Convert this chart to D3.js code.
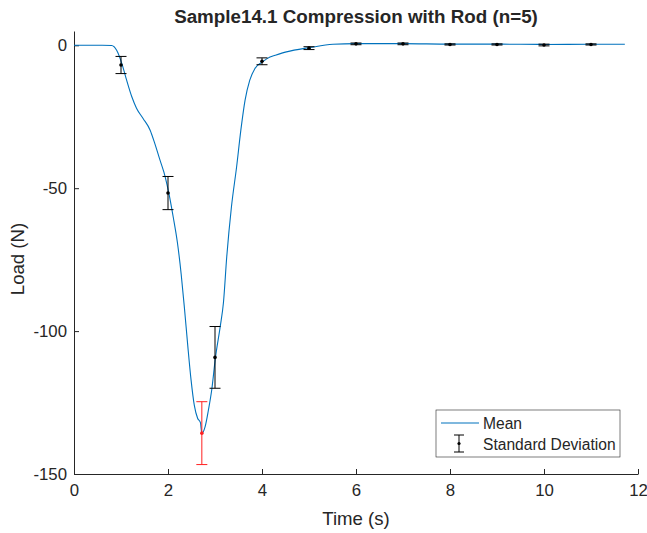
<!DOCTYPE html>
<html>
<head>
<meta charset="utf-8">
<script src="https://cdn.jsdelivr.net/npm/d3@7"></script>
<style>
  body { margin: 0; background: #fff; }
  text { font-family: "Liberation Sans", Arial, sans-serif; fill: #262626; }
</style>
</head>
<body>
<script>
// mean load curve (time in s, load in N)
const meanTime = [0, 0.3, 0.6, 0.8, 0.91, 1.03, 1.12, 1.23, 1.33, 1.47, 1.62, 1.72, 1.83, 1.94, 2.02,
  2.11, 2.2, 2.28, 2.35, 2.42, 2.49, 2.56, 2.63, 2.69, 2.72, 2.79, 2.86, 2.93, 3.01, 3.11, 3.18,
  3.25, 3.35, 3.46, 3.55, 3.64, 3.74, 3.85, 4.01, 4.17, 4.28, 4.52, 5.02, 5.51, 6, 7, 8, 9, 10, 11, 11.72];
const meanLoad = [0, 0, 0, -0.1, -1.8, -7, -12.2, -18, -22, -25.6, -29.7, -34.4, -40.2, -46, -51.9,
  -60, -69, -80, -92, -105, -117, -126, -130.5, -132, -135.8, -133.4, -127.6, -120.6, -109.2, -98.5, -90,
  -74, -56.5, -42.5, -29.7, -19.2, -12.2, -8.1, -5.8, -4.1, -3.5, -2.3, -0.8, 0.35, 0.6, 0.6, 0.4, 0.4, 0.3, 0.35, 0.35];

// standard deviation markers
const sdTime = [1, 2, 2.72, 3, 4, 5, 6, 7, 8, 9, 10, 11];
const sdMean = [-6.9, -51.7, -135.7, -109.2, -5.6, -1, 0.5, 0.5, 0.3, 0.3, 0.1, 0.3];
const sdDev = [3, 5.8, 11, 10.8, 1.2, 0.5, 0.3, 0.3, 0.2, 0.2, 0.3, 0.2];
const sdPeak = 2; // index of the red bar (minimum)

const xTicks = [0, 2, 4, 6, 8, 10, 12];
const yTicks = [0, -50, -100, -150];

const W = 647, H = 533;
const mLeft = 74, mRight = 638, mTop = 31, mBottom = 474;
const axisColor = "#262626";

const svg = d3.select("body").append("svg")
  .attr("width", W).attr("height", H);

const x = d3.scaleLinear().domain([0, 12]).range([0, mRight - mLeft]);
const y = d3.scaleLinear().domain([-150, 5]).range([mBottom - mTop, 0]);

const g = svg.append("g").attr("transform", `translate(${mLeft},${mTop})`);

// axes, ticks pointing inward like matlab, plain hyphen minus
const fmt = d => String(d);
const xAxis = g.append("g")
  .attr("transform", `translate(0,${mBottom - mTop})`)
  .call(d3.axisBottom(x).tickValues(xTicks).tickFormat(fmt).tickSizeInner(-5).tickSizeOuter(0).tickPadding(10));
const yAxis = g.append("g")
  .call(d3.axisLeft(y).tickValues(yTicks).tickFormat(fmt).tickSizeInner(-5).tickSizeOuter(0).tickPadding(7));

[xAxis, yAxis].forEach(a => {
  a.selectAll("path, line").attr("stroke", axisColor);
  a.selectAll("text").style("font-size", "16.8px").attr("fill", axisColor)
    .style("font-family", "'Liberation Sans', Arial, sans-serif");
});

// mean line
const pts = meanTime.map((t, i) => ({ t: t, v: meanLoad[i] }));
g.append("path")
  .datum(pts)
  .attr("fill", "none")
  .attr("stroke", "#0072BD")
  .attr("stroke-width", 1.1)
  .attr("d", d3.line().x(d => x(d.t)).y(d => y(d.v)).curve(d3.curveMonotoneX));

// error bars
const bars = sdTime.map((t, i) => ({ t: t, m: sdMean[i], s: sdDev[i], peak: i === sdPeak }));
const cap = 5.5;
const eb = g.selectAll(".eb").data(bars).enter().append("g").attr("class", "eb");
eb.each(function(d) {
  const c = d.peak ? "#FF2020" : "#000";
  const gg = d3.select(this);
  const cx = x(d.t), y1 = y(d.m + d.s), y2 = y(d.m - d.s);
  gg.append("line").attr("x1", cx).attr("x2", cx).attr("y1", y1).attr("y2", y2).attr("stroke", c).attr("stroke-width", 1);
  gg.append("line").attr("x1", cx - cap).attr("x2", cx + cap).attr("y1", y1).attr("y2", y1).attr("stroke", c).attr("stroke-width", 1);
  gg.append("line").attr("x1", cx - cap).attr("x2", cx + cap).attr("y1", y2).attr("y2", y2).attr("stroke", c).attr("stroke-width", 1);
  gg.append("circle").attr("cx", cx).attr("cy", y(d.m)).attr("r", 1.8).attr("fill", c);
});

// labels
svg.append("text")
  .attr("x", (mLeft + mRight) / 2).attr("y", 23)
  .attr("text-anchor", "middle")
  .style("font-size", "18.8px").style("font-weight", "bold")
  .attr("fill", "#000")
  .text("Sample14.1 Compression with Rod (n=5)");

svg.append("text")
  .attr("x", (mLeft + mRight) / 2).attr("y", 525)
  .attr("text-anchor", "middle")
  .style("font-size", "18.6px")
  .text("Time (s)");

svg.append("text")
  .attr("transform", `translate(24,259) rotate(-90)`)
  .attr("text-anchor", "middle")
  .style("font-size", "18.6px")
  .text("Load (N)");

// legend
const lg = svg.append("g").attr("transform", "translate(436,410)");
lg.append("rect").attr("width", 184).attr("height", 47)
  .attr("fill", "#fff").attr("stroke", axisColor).attr("stroke-width", 0.6);
lg.append("line").attr("x1", 5).attr("x2", 43).attr("y1", 13).attr("y2", 13)
  .attr("stroke", "#0072BD").attr("stroke-width", 1.1);
lg.append("text").attr("x", 47).attr("y", 18.5).style("font-size", "15.6px").text("Mean");
lg.append("line").attr("x1", 23).attr("x2", 23).attr("y1", 25).attr("y2", 42).attr("stroke", "#000");
lg.append("line").attr("x1", 18).attr("x2", 28).attr("y1", 25).attr("y2", 25).attr("stroke", "#000");
lg.append("line").attr("x1", 18).attr("x2", 28).attr("y1", 42).attr("y2", 42).attr("stroke", "#000");
lg.append("circle").attr("cx", 23).attr("cy", 33.5).attr("r", 1.6).attr("fill", "#000");
lg.append("text").attr("x", 47).attr("y", 39.5).style("font-size", "15.6px").text("Standard Deviation");
</script>
</body>
</html>
